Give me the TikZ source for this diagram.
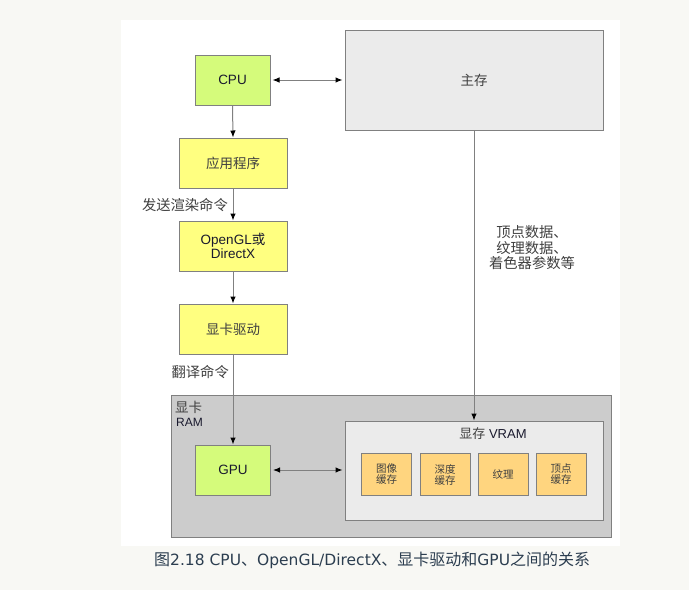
\documentclass[tikz,border=0pt]{standalone}
\usepackage{fontspec}
\setmainfont{Liberation Sans}
\newfontfamily\cjk{Noto Sans CJK SC}
\newfontfamily\caplatin{DejaVu Sans}
\usetikzlibrary{arrows.meta}
\definecolor{bgpage}{HTML}{F8F8F4}
\definecolor{cpugreen}{HTML}{D5FB7B}
\definecolor{appyellow}{HTML}{FFFF80}
\definecolor{memgray}{HTML}{EBEBEB}
\definecolor{cardgray}{HTML}{CCCCCC}
\definecolor{buforange}{HTML}{FFD57F}
\definecolor{edgegray}{HTML}{808080}
\definecolor{txtgray}{HTML}{404040}
\definecolor{txtdark}{HTML}{1A1A2E}
\definecolor{captxt}{HTML}{2C3E50}
\newcommand{\capL}[1]{{\caplatin\fontsize{15.5}{16}\selectfont #1}}
\tikzset{
  box/.style={draw=edgegray, line width=1pt, inner sep=0pt, anchor=center,
    font=\fontsize{13.5}{13.5}\selectfont, text=txtdark, align=center},
  greenbox/.style={box, fill=cpugreen, minimum width=75pt, minimum height=50pt},
  yellowbox/.style={box, fill=appyellow, minimum width=108pt, minimum height=50pt},
  bufbox/.style={box, fill=buforange, minimum width=50pt, minimum height=42pt,
    font=\cjk\fontsize{10.5}{11}\selectfont, text=txtgray},
  conn/.style={draw=edgegray, line width=1pt, -{Latex[length=7pt,width=5.5pt,color=black]}},
  biconn/.style={draw=edgegray, line width=1pt, {Latex[length=7pt,width=5.5pt,color=black]}-{Latex[length=7pt,width=5.5pt,color=black]}},
  lbl/.style={font=\cjk\fontsize{14.3}{15.5}\selectfont, text=txtgray, inner sep=0pt, align=center}
}
\begin{document}
\begin{tikzpicture}[x=1pt,y=-1pt]
\useasboundingbox (0,0) rectangle (689,590);
\fill[bgpage] (0,0) rectangle (689,590);
\fill[white] (121,20) rectangle (620,546);

% graphics card container
\node[box, fill=cardgray, minimum width=440pt, minimum height=142pt] (card) at (391,466) {};
\node[lbl, anchor=west, font=\cjk\fontsize{13.5}{13.5}\selectfont] (cardlbl) at (175,407) {显卡};
\node[anchor=west, inner sep=0pt, font=\fontsize{12}{12}\selectfont, text=txtdark] (ramlbl) at (176,422) {RAM};

% main boxes
\node[greenbox] (cpu) at (232.5,80) {CPU};
\node[box, fill=memgray, minimum width=258pt, minimum height=100pt, font=\cjk\fontsize{13.5}{13.5}\selectfont, text=txtgray] (mem) at (474,80) {主存};
\node[yellowbox, font=\cjk\fontsize{13.5}{13.5}\selectfont, text=txtgray] (app) at (233,163) {应用程序};
\node[yellowbox, font=\fontsize{13.5}{14}\selectfont] (api) at (233,246) {OpenGL{\cjk 或}\\DirectX};
\node[yellowbox, font=\cjk\fontsize{13.5}{13.5}\selectfont, text=txtgray] (drv) at (233,329) {显卡驱动};
\node[greenbox] (gpu) at (233,470) {GPU};

\node[box, fill=memgray, minimum width=258pt, minimum height=99pt] (vram) at (474,470.5) {};
\node[inner sep=0pt, font=\fontsize{13}{13}\selectfont, text=txtdark] (vramlbl) at (493,434) {{\cjk\color{txtgray}显存} VRAM};

\node[bufbox] (b1) at (386.5,474.5) {图像\\缓存};
\node[bufbox] (b2) at (445,474.5) {深度\\缓存};
\node[bufbox] (b3) at (503,474.5) {纹理};
\node[bufbox] (b4) at (561,474.5) {顶点\\缓存};

% connectors
\draw[biconn, shorten <=2pt, shorten >=2pt] (cpu.east) -- (mem.west |- cpu.east);
\draw[conn] (cpu.south) -- (app.north);
\draw[conn] (app.south) -- (api.north);
\draw[conn] (api.south) -- (drv.north);
\draw[conn] (drv.south) -- (gpu.north);
\draw[conn] (mem.south) -- (vram.north);
\draw[biconn, shorten <=2pt, shorten >=2pt] (gpu.east) -- (vram.west |- gpu.east);

\node[lbl, anchor=east] (l1) at (228,205) {发送渲染命令};
\node[lbl, anchor=east] (l2) at (229,372) {翻译命令};
\node[lbl] (l3) at (532,248) {顶点数据、\\纹理数据、\\着色器参数等};

% caption
\node[inner sep=0pt, anchor=west, font=\cjk\fontsize{16}{16}\selectfont, text=captxt] (cap) at (154,560.5) {图\capL{2.18 CPU}、\capL{OpenGL/DirectX}、显卡驱动和\capL{GPU}之间的关系};
\end{tikzpicture}
\end{document}
